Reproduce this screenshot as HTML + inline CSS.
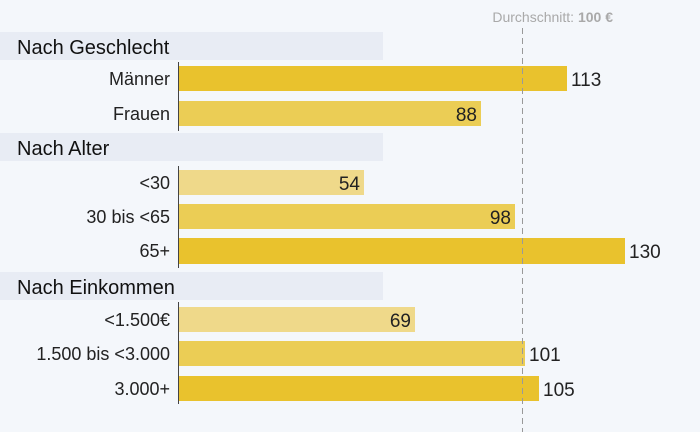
<!DOCTYPE html>
<html><head><meta charset="utf-8"><style>
body{margin:0;background:#f4f7fb;}
svg{display:block;font-family:"Liberation Sans",sans-serif;}
.l{font-size:18px;fill:#222;text-anchor:end;}
.v{font-size:19px;fill:#222;}
.h{font-size:20px;fill:#111;}
</style></head><body>
<svg width="700" height="432" viewBox="0 0 700 432">
<rect width="700" height="432" fill="#f4f7fb"/>
<rect x="0" y="32" width="383" height="28" fill="#e8ecf4"/>
<rect x="0" y="133" width="383" height="28" fill="#e8ecf4"/>
<rect x="0" y="272" width="383" height="28" fill="#e8ecf4"/>
<text class="h" x="17" y="54">Nach Geschlecht</text>
<text class="h" x="17" y="155">Nach Alter</text>
<text class="h" x="17" y="294">Nach Einkommen</text>
<text x="613" y="22" font-size="14" font-weight="bold" fill="#a9a9a9" text-anchor="end"><tspan font-weight="normal">Durchschnitt: </tspan>100 €</text>
<g>
<rect x="178" y="66" width="389" height="25" fill="#e9c22d"/>
<rect x="178" y="101" width="303" height="25" fill="#ebcd55"/>
<rect x="178" y="170" width="186" height="25" fill="#efd98a"/>
<rect x="178" y="204" width="337" height="25" fill="#ebcd55"/>
<rect x="178" y="238" width="447" height="26" fill="#e9c22d"/>
<rect x="178" y="307" width="237" height="25" fill="#efd98a"/>
<rect x="178" y="341" width="347" height="25" fill="#ebcd55"/>
<rect x="178" y="376" width="361" height="25" fill="#e9c22d"/>
</g>
<line x1="522.5" y1="28" x2="522.5" y2="432" stroke="#999" stroke-dasharray="6,4" stroke-width="1"/>
<g stroke="#444" stroke-width="1">
<line x1="178.5" y1="62" x2="178.5" y2="131"/>
<line x1="178.5" y1="166" x2="178.5" y2="268"/>
<line x1="178.5" y1="302" x2="178.5" y2="404"/>
</g>
<text class="l" x="170" y="85">Männer</text>
<text class="l" x="170" y="120">Frauen</text>
<text class="l" x="170" y="189">&lt;30</text>
<text class="l" x="170" y="223">30 bis &lt;65</text>
<text class="l" x="170" y="257">65+</text>
<text class="l" x="170" y="326">&lt;1.500€</text>
<text class="l" x="170" y="360">1.500 bis &lt;3.000</text>
<text class="l" x="170" y="395">3.000+</text>
<text class="v" x="571" y="86">113</text>
<text class="v" x="477" y="121" text-anchor="end">88</text>
<text class="v" x="360" y="190" text-anchor="end">54</text>
<text class="v" x="511" y="224" text-anchor="end">98</text>
<text class="v" x="629" y="258">130</text>
<text class="v" x="411" y="327" text-anchor="end">69</text>
<text class="v" x="529" y="361">101</text>
<text class="v" x="543" y="396">105</text>
</svg>
</body></html>
